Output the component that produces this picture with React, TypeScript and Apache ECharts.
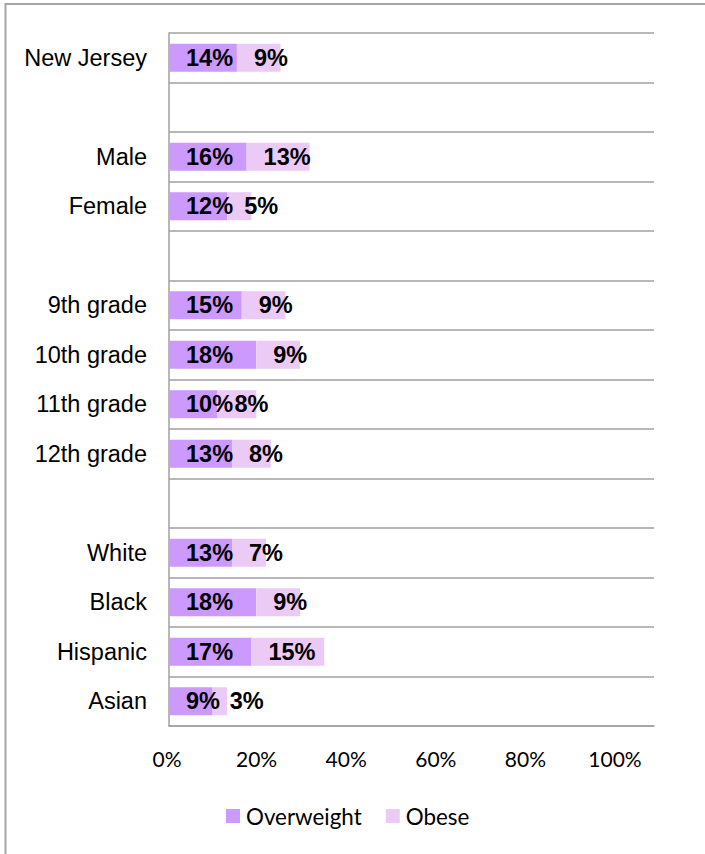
import React, { useEffect, useRef } from "react";
import * as echarts from "echarts";

const categories = [
  "New Jersey", "", "Male", "Female", " ", "9th grade", "10th grade",
  "11th grade", "12th grade", "  ", "White", "Black", "Hispanic", "Asian",
];
const overweight = [14, null, 16, 12, null, 15, 18, 10, 13, null, 13, 18, 17, 9];
const obese = [9, null, 13, 5, null, 9, 9, 8, 8, null, 7, 9, 15, 3];
const tickValues = [0, 20, 40, 60, 80, 100];

export default function App() {
  const ref = useRef<HTMLDivElement>(null);
  useEffect(() => {
    if (!ref.current) return;
    const chart = echarts.init(ref.current, null, { renderer: "svg" });
    const barLabel = {
      show: true,
      position: "insideLeft",
      distance: 17,
      formatter: "{c}%",
      color: "#000",
      fontWeight: "bold",
      fontSize: 23.5,
      fontFamily: "Liberation Sans, Arial, sans-serif",
    };
    chart.setOption({
      animation: false,
      backgroundColor: "#fff",
      graphic: [
        {
          type: "rect",
          shape: { x: 5.5, y: 4, width: 800, height: 900 },
          style: { fill: "none", stroke: "#a6a6a6", lineWidth: 2 },
          silent: true,
        },
      ],
      legend: {
        left: 226,
        top: 805,
        padding: 0,
        icon: "rect",
        itemWidth: 14,
        itemHeight: 14,
        itemGap: 24,
        textStyle: { fontFamily: "Lato", fontSize: 22.4, color: "#000", padding: [0, 0, 0, 1] },
        data: ["Overweight", "Obese"],
      },
      grid: [
        { left: 169, top: 33, width: 485, height: 693, containLabel: false },
        { left: 167, top: 33, width: 448, height: 693, containLabel: false },
      ],
      xAxis: [
        {
          type: "value",
          gridIndex: 0,
          min: 0,
          max: 100,
          axisLabel: { show: false },
          axisTick: { show: false },
          splitLine: { show: false },
          axisLine: { show: true, lineStyle: { color: "#a0a0a0", width: 1.5 } },
        },
        {
          type: "value",
          gridIndex: 1,
          min: 0,
          max: 100,
          interval: 20,
          axisLabel: {
            formatter: (v: number) => (tickValues.includes(v) ? v + "%" : ""),
            fontFamily: "Lato",
            fontSize: 21,
            color: "#000",
            margin: 22,
          },
          axisTick: { show: false },
          splitLine: { show: false },
          axisLine: { show: false },
        },
      ],
      yAxis: [
        {
          type: "category",
          gridIndex: 0,
          inverse: true,
          data: categories,
          axisTick: { show: false },
          axisLine: { show: true, lineStyle: { color: "#a0a0a0", width: 1.5 } },
          axisLabel: {
            fontFamily: "Liberation Sans, Arial, sans-serif",
            fontSize: 23.5,
            color: "#000",
            margin: 22,
            interval: 0,
          },
          splitLine: { show: true, lineStyle: { color: "#a0a0a0", width: 1.5 } },
        },
        {
          type: "value",
          gridIndex: 1,
          show: false,
          min: 0,
          max: 1,
        },
      ],
      series: [
        {
          name: "Overweight",
          type: "bar",
          stack: "total",
          xAxisIndex: 0,
          yAxisIndex: 0,
          barWidth: 28,
          itemStyle: { color: "#cc99ff" },
          label: barLabel,
          data: overweight,
        },
        {
          name: "Obese",
          type: "bar",
          stack: "total",
          xAxisIndex: 0,
          yAxisIndex: 0,
          barWidth: 28,
          itemStyle: { color: "#ebcaf5" },
          label: barLabel,
          data: obese,
        },
      ],
    });
    return () => chart.dispose();
  }, []);
  return (
    <div
      ref={ref}
      style={{ position: "fixed", left: 0, top: 0, width: 705, height: 854 }}
    />
  );
}
